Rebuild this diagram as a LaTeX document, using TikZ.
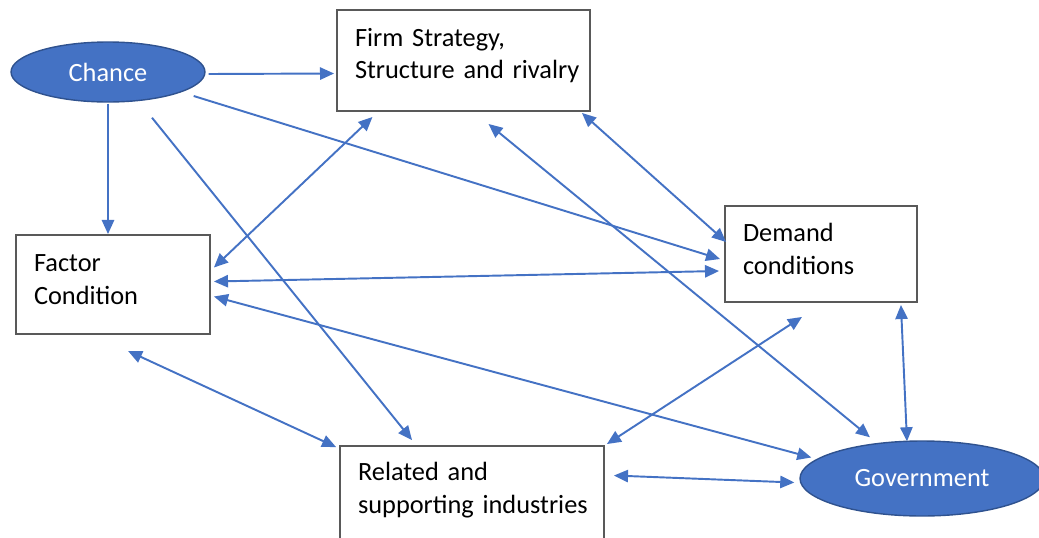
\documentclass[tikz,border=0pt]{standalone}
\usepackage{fontspec}
\setmainfont{Carlito}
\usetikzlibrary{arrows.meta,calc,shapes.geometric}
\definecolor{officeblue}{HTML}{4472C4}
\definecolor{officeedge}{HTML}{2F528F}
\definecolor{boxgray}{HTML}{595959}

\begin{document}
\begin{tikzpicture}[x=0.02cm, y=-0.02cm,
  >={Triangle[length=8pt,width=7pt]},
  factorbox/.style={draw=boxgray, line width=1.1pt, fill=white, align=left,
    inner xsep=0.36cm, font=\fontsize{15}{18.7}\selectfont,
    execute at end node={\endgraf\vspace*{0.2cm}}},
  force/.style={ellipse, draw=officeedge, line width=0.8pt, fill=officeblue,
    text=white, inner sep=0pt, font=\fontsize{15}{18.7}\selectfont},
  link/.style={officeblue, line width=1.1pt}]
\useasboundingbox (0,0) rectangle (1039,538);

\node[force, minimum width=3.88cm, minimum height=1.2cm] (chance) at (108,72) {Chance};
\node[force, minimum width=4.88cm, minimum height=1.5cm] (gov) at (922,478.5) {Government};

\node[factorbox, text width=4.34cm, minimum height=2.02cm] (firm) at (463.5,60.5) {Firm Strategy,\\\mbox{Structure and rivalry}};
\node[factorbox, text width=3.12cm, minimum height=1.92cm] (demand) at (821,254) {Demand\\conditions};
\node[factorbox, text width=3.16cm, minimum height=1.98cm] (factor) at (113,284.5) {Factor\\Condition};
\node[factorbox, text width=4.56cm, minimum height=1.98cm] (related) at (472,495.5) {Related and\\\mbox{supporting industries}};

% arrows leaving chance
\draw[link, ->] ($(chance.east)+(3,2)$) -- ($(firm.west)+(-2,13)$);
\draw[link, ->] ($(chance.south)+(0,1)$) -- ($(factor.north)+(-5,0)$);
\draw[link, ->] ($(chance.south)+(44,15)$) -- ($(related.north)+(-60,-5)$);
\draw[link, ->] ($(chance.east)+(-12,24)$) -- ($(demand.west)+(-4,5)$);

% two way links
\draw[link, <->] ($(firm.south)+(-91,5)$) -- ($(factor.east)+(3,-17)$);
\draw[link, <->] ($(firm.south east)+(-9,1)$) -- ($(demand.west)+(2,-12)$);
\draw[link, <->] ($(firm.south)+(25,12)$) -- ($(gov.north)+(-52,-3)$);
\draw[link, <->] ($(factor.east)+(3,-3)$) -- ($(demand.west)+(-5,17)$);
\draw[link, <->] ($(factor.east)+(3,12)$) -- ($(gov.west)+(12,-21)$);
\draw[link, <->] ($(factor.south)+(15,16)$) -- ($(related.north west)+(-3,2)$);
\draw[link, <->] ($(demand.south)+(-19,14)$) -- ($(related.north east)+(2,-1)$);
\draw[link, <->] ($(demand.south east)+(-17,2)$) -- ($(gov.north)+(-15,1)$);
\draw[link, <->] ($(related.east)+(9,-20)$) -- ($(gov.west)+(-5,4)$);

\end{tikzpicture}
\end{document}
